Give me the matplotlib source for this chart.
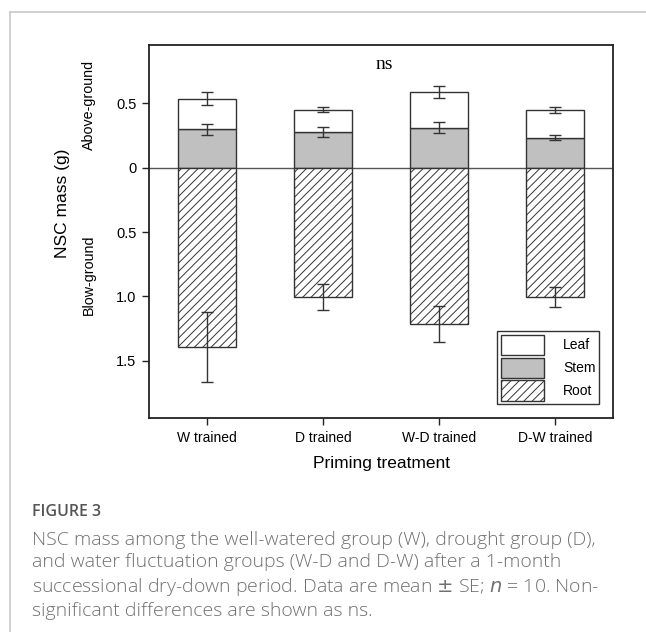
import numpy as np
import matplotlib.pyplot as plt
from matplotlib.lines import Line2D
from matplotlib.patches import Patch

# ----------------------------------------------------
# Data (NSC mass, g; mean and SE)
# ----------------------------------------------------
groups = ["W trained", "D trained", "W-D trained", "D-W trained"]
stem = [0.298, 0.277, 0.311, 0.233]
stem_se = [0.043, 0.041, 0.043, 0.021]
leaf = [0.238, 0.174, 0.275, 0.215]
leaf_se = [0.049, 0.017, 0.047, 0.027]
root = [1.391, 1.007, 1.212, 1.005]
root_se = [0.272, 0.100, 0.140, 0.078]

ytick_vals = [0.5, 0, -0.5, -1.0, -1.5]
ytick_labels = ["0.5", "0", "0.5", "1.0", "1.5"]

plt.rcParams["font.family"] = ["Liberation Sans", "DejaVu Sans"]
plt.rcParams["hatch.color"] = "#444444"
plt.rcParams["hatch.linewidth"] = 0.7

x = np.arange(1, len(groups) + 1)
stem = np.array(stem)
leaf = np.array(leaf)
root = np.array(root)

fig = plt.figure(figsize=(6.46, 6.32), dpi=100)
ax = fig.add_axes([0.2307, 0.3386, 0.7183, 0.5902])

edge = "#333333"

# above-ground
ax.bar(x, stem, width=0.5, color="#c0c0c0", edgecolor=edge, linewidth=1, zorder=2)
ax.bar(x, leaf, bottom=stem, width=0.5, color="white", edgecolor=edge, linewidth=1, zorder=2)
# below-ground (drawn downward)
ax.bar(x, -root, width=0.5, color="white", edgecolor=edge, hatch="////", linewidth=1, zorder=2)

err_kw = dict(fmt="none", ecolor="#333333", elinewidth=1, capsize=4, capthick=1, zorder=3)
ax.errorbar(x, stem, yerr=stem_se, **err_kw)
ax.errorbar(x, stem + leaf, yerr=leaf_se, **err_kw)
ax.errorbar(x, -root, yerr=root_se, **err_kw)

ax.axhline(0, color="#555555", linewidth=1, zorder=1)

ax.set_xlim(0.5, 4.5)
ax.set_ylim(-1.945, 0.953)
ax.set_xticks(x)
ax.set_xticklabels(groups, fontsize=10)
ax.set_yticks(ytick_vals)
ax.set_yticklabels(ytick_labels, fontsize=10.5)
ax.tick_params(axis="both", direction="out", length=5, width=1, color="#222222", pad=4)
for s in ax.spines.values():
    s.set_linewidth(1.3)
    s.set_color("#222222")

ax.text(2.53, 0.80, "ns", fontsize=14, family="Liberation Serif", ha="center", va="center")

ax.set_xlabel("Priming treatment", fontsize=12.5, labelpad=8)
fig.text(62 / 646, 1 - 203 / 632, "NSC mass (g)", rotation=90, fontsize=12.5, ha="center", va="center")
fig.text(89 / 646, 1 - 105 / 632, "Above-ground", rotation=90, fontsize=10.3, ha="center", va="center")
fig.text(89 / 646, 1 - 275 / 632, "Blow-ground", rotation=90, fontsize=10.3, ha="center", va="center")

handles = [
    Patch(facecolor="white", edgecolor=edge, label="Leaf"),
    Patch(facecolor="#c0c0c0", edgecolor=edge, label="Stem"),
    Patch(facecolor="white", edgecolor=edge, hatch="////", label="Root"),
]
leg = ax.legend(handles=handles, loc="lower right", bbox_to_anchor=(0.970, 0.0375),
                borderaxespad=0, fancybox=False, framealpha=1, edgecolor="#333333",
                fontsize=10, handlelength=3.1, handleheight=1.85, labelspacing=0.2,
                handletextpad=1.4, borderpad=0.25)
leg.get_frame().set_linewidth(1)

# caption box lines
fig.add_artist(Line2D([10 / 646, 1], [1 - 11.5 / 632] * 2, color="#c8c8c8", lw=1.2))
fig.add_artist(Line2D([10 / 646] * 2, [0, 1 - 11.5 / 632], color="#c8c8c8", lw=1.2))

fig.text(32 / 646, 1 - 512 / 632, "FIGURE 3", fontsize=11.5, color="#555555",
         family="Open Sans", weight="semibold", va="center")
caption = ("NSC mass among the well-watered group (W), drought group (D),\n"
           "and water fluctuation groups (W-D and D-W) after a 1-month\n"
           "successional dry-down period. Data are mean $\\pm$ SE; $n$ = 10. Non-\n"
           "significant differences are shown as ns.")
fig.text(32 / 646, 1 - 531 / 632, caption, fontsize=14, color="#707070",
         family="Open Sans", weight="light", va="top", linespacing=1.3)

fig.savefig("out.png", dpi=100)
